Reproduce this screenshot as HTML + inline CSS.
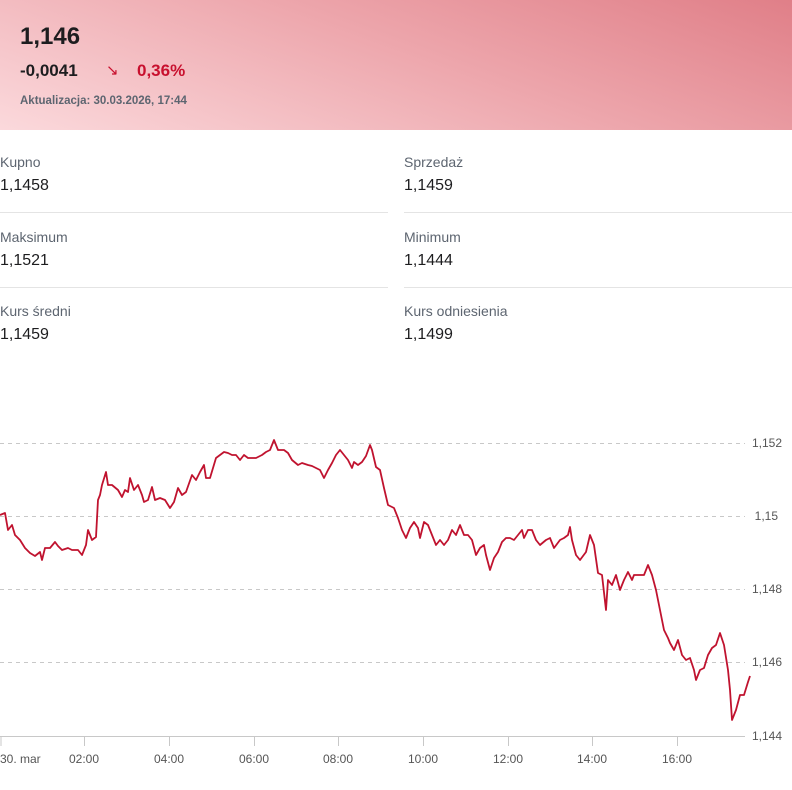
<!DOCTYPE html>
<html><head><meta charset="utf-8"><style>
*{margin:0;padding:0;box-sizing:border-box}
body{width:792px;height:790px;background:#fff;font-family:"Liberation Sans",sans-serif;position:relative;overflow:hidden;color:#1d1d1f}
.hdr{position:absolute;left:0;top:0;width:792px;height:130px;background:linear-gradient(200deg,#e07f88 0%,#eda6ac 45%,#fbd9dc 100%)}
.abs{position:absolute;white-space:nowrap}
.lbl{font-size:14px;color:#5d6570}
.val{font-size:16px;color:#1d1d1f}
.sep{position:absolute;height:1px;background:#e4e4e4}
</style></head><body>
<div class="hdr">
<div class="abs" style="left:20px;top:23px;font-size:24px;font-weight:bold">1,146</div>
<div class="abs" style="left:20px;top:61px;font-size:17px;font-weight:bold">-0,0041</div>
<div class="abs" style="left:106px;top:61px;font-size:15px;color:#c8102e">↘</div>
<div class="abs" style="left:137px;top:61px;font-size:17px;font-weight:bold;color:#c8102e">0,36%</div>
<div class="abs" style="left:20px;top:95px;font-size:11.5px;color:#5d6570;font-weight:bold">Aktualizacja: 30.03.2026, 17:44</div>
</div>
<div class="abs lbl" style="left:0;top:154px">Kupno</div>
<div class="abs val" style="left:0;top:177px">1,1458</div>
<div class="abs lbl" style="left:404px;top:154px">Sprzedaż</div>
<div class="abs val" style="left:404px;top:177px">1,1459</div>
<div class="sep" style="left:0;top:212px;width:388px"></div>
<div class="sep" style="left:404px;top:212px;width:388px"></div>
<div class="abs lbl" style="left:0;top:229px">Maksimum</div>
<div class="abs val" style="left:0;top:252px">1,1521</div>
<div class="abs lbl" style="left:404px;top:229px">Minimum</div>
<div class="abs val" style="left:404px;top:252px">1,1444</div>
<div class="sep" style="left:0;top:287px;width:388px"></div>
<div class="sep" style="left:404px;top:287px;width:388px"></div>
<div class="abs lbl" style="left:0;top:303px">Kurs średni</div>
<div class="abs val" style="left:0;top:326px">1,1459</div>
<div class="abs lbl" style="left:404px;top:303px">Kurs odniesienia</div>
<div class="abs val" style="left:404px;top:326px">1,1499</div>
<svg class="abs" style="left:0;top:0" width="792" height="790">
<g stroke="#c8c8c8" stroke-dasharray="4,4" stroke-width="1">
<line x1="0" y1="443.5" x2="745" y2="443.5"/><line x1="0" y1="516.5" x2="745" y2="516.5"/>
<line x1="0" y1="589.5" x2="745" y2="589.5"/><line x1="0" y1="662.5" x2="745" y2="662.5"/>
</g>
<line x1="0" y1="736.5" x2="745" y2="736.5" stroke="#c8c8c8"/>
<g stroke="#c8c8c8"><line x1="1" y1="737" x2="1" y2="746"/><line x1="84.5" y1="737" x2="84.5" y2="746"/><line x1="169.5" y1="737" x2="169.5" y2="746"/><line x1="254.5" y1="737" x2="254.5" y2="746"/><line x1="338.5" y1="737" x2="338.5" y2="746"/><line x1="423.5" y1="737" x2="423.5" y2="746"/><line x1="508.5" y1="737" x2="508.5" y2="746"/><line x1="592.5" y1="737" x2="592.5" y2="746"/><line x1="677.5" y1="737" x2="677.5" y2="746"/></g>
<g font-family="Liberation Sans,sans-serif" font-size="12" fill="#555" text-anchor="middle">
<text x="0" y="763" text-anchor="start">30. mar</text><text x="84" y="763">02:00</text><text x="169" y="763">04:00</text><text x="254" y="763">06:00</text><text x="338" y="763">08:00</text><text x="423" y="763">10:00</text><text x="508" y="763">12:00</text><text x="592" y="763">14:00</text><text x="677" y="763">16:00</text>
</g>
<g font-family="Liberation Sans,sans-serif" font-size="12" fill="#555" text-anchor="end">
<text x="782" y="447">1,152</text><text x="778" y="520">1,15</text><text x="782" y="593">1,148</text><text x="782" y="666">1,146</text><text x="782" y="740">1,144</text>
</g>
<polyline fill="none" stroke="#c0132f" stroke-width="1.8" stroke-linejoin="round" points="0,515 5,513 8,530 12,525 15,535 20,540 25,548 30,553 35,556 40,552 42,560 45,548 50,548 55,542 58,546 62,550 68,548 72,550 78,550 82,555 86,545 88,530 92,540 96,537 98,500 100,495 102,485 106,472 108,485 112,485 118,490 122,497 125,490 128,492 130,478 134,490 138,485 142,495 144,502 148,500 152,487 155,500 160,498 165,500 170,508 174,502 178,488 182,495 186,492 192,475 196,480 200,472 204,465 206,478 210,478 216,458 220,455 224,452 228,453 232,455 236,455 240,460 244,455 248,458 252,458 256,458 262,455 266,452 270,450 274,440 278,450 284,450 288,453 292,460 298,465 302,463 308,465 312,466 316,468 320,470 324,478 328,470 332,463 336,455 340,450 344,455 348,460 352,468 354,462 358,465 362,462 366,456 370,445 372,450 376,467 380,470 384,488 388,505 394,508 398,518 402,530 406,538 410,528 414,522 418,528 420,538 424,522 428,525 432,535 436,545 440,540 444,545 448,540 452,530 456,535 460,525 464,535 468,535 472,540 476,555 480,548 484,545 486,555 490,570 494,558 498,552 502,542 506,538 510,538 514,540 518,535 522,530 524,538 528,530 532,530 536,540 540,545 546,540 550,538 554,548 560,540 564,538 568,535 570,527 572,540 576,555 580,560 586,552 590,535 594,545 598,573 602,575 606,610 608,580 612,585 616,575 620,590 624,580 628,572 632,580 634,575 640,575 644,575 648,565 652,575 656,590 660,610 664,630 668,638 670,643 674,650 678,640 682,655 686,660 690,658 694,670 696,680 700,670 704,668 708,655 712,648 716,645 720,633 724,645 728,670 730,690 732,720 736,710 740,695 744,695 748,682 750,676"/>
</svg>
</body></html>
